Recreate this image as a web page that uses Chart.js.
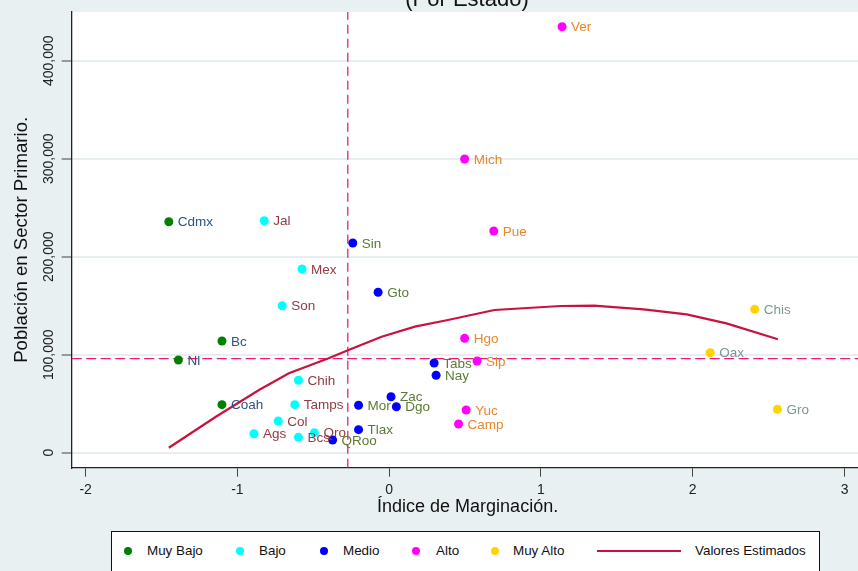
<!DOCTYPE html>
<html>
<head>
<meta charset="utf-8">
<script src="https://cdn.jsdelivr.net/npm/chart.js@4.4.1/dist/chart.umd.min.js"></script>
<style>
  html, body { margin: 0; padding: 0; background: #E9F0F2; overflow: hidden; }
  #wrap { position: relative; width: 858px; height: 571px; overflow: hidden; }
  #chart { position: absolute; left: 0; top: 0; }
  #legend {
    position: absolute; left: 111px; top: 531px; width: 709px; height: 60px;
    background: #fff; border: 1px solid #111; box-sizing: border-box;
    font: 13.4px "Liberation Sans", Arial, sans-serif; color: #111;
  }
  #legend .dot { position: absolute; width: 8px; height: 8px; border-radius: 50%; top: 15px; }
  #legend .txt { position: absolute; top: 11px; line-height: 16px; white-space: nowrap; }
  #legend .ln { position: absolute; height: 2px; top: 18px; }
</style>
</head>
<body>
<div id="wrap">
  <canvas id="chart" width="868" height="571"></canvas>
  <div id="legend"></div>
</div>
<script>
// grupos de marginación
const groupNames = ['Muy Bajo', 'Bajo', 'Medio', 'Alto', 'Muy Alto'];
const groupColors = ['#008000', '#00FFFF', '#0000FF', '#FF00FF', '#FFD200'];
const labelColors = ['#2B5580', '#933A42', '#5B7A33', '#E8862A', '#7C9792'];

const muyBajoStates = ['Cdmx', 'Bc', 'Nl', 'Coah'];
const muyBajoX = [-1.452, -1.102, -1.389, -1.102];
const muyBajoY = [235700, 114000, 94600, 49000];

const bajoStates = ['Jal', 'Mex', 'Son', 'Chih', 'Tamps', 'Col', 'Ags', 'Bcs', 'Qro'];
const bajoX = [-0.823, -0.574, -0.705, -0.598, -0.622, -0.731, -0.891, -0.598, -0.493];
const bajoY = [236700, 187400, 150000, 73900, 49000, 32300, 19400, 15700, 20400];

const medioStates = ['Sin', 'Gto', 'Tabs', 'Nay', 'Zac', 'Mor', 'Dgo', 'Tlax', 'QRoo'];
const medioX = [-0.240, -0.073, 0.296, 0.309, 0.012, -0.202, 0.047, -0.202, -0.373];
const medioY = [214000, 163700, 91500, 79000, 57100, 48400, 46900, 23500, 13000];

const altoStates = ['Ver', 'Mich', 'Pue', 'Hgo', 'Slp', 'Yuc', 'Camp'];
const altoX = [1.139, 0.497, 0.689, 0.497, 0.579, 0.507, 0.457];
const altoY = [434700, 299700, 226200, 116700, 93600, 43600, 29300];

const muyAltoStates = ['Chis', 'Oax', 'Gro'];
const muyAltoX = [2.408, 2.115, 2.558];
const muyAltoY = [146300, 102000, 44300];

// valores estimados (ajuste cuadrático)
const fitX = [-1.452, -1.142, -0.858, -0.661, -0.399, -0.268, -0.050, 0.169, 0.387, 0.693, 1.130, 1.349, 1.676, 1.960, 2.222, 2.561];
const fitY = [5100, 36700, 64000, 81000, 96300, 104800, 118400, 128600, 135400, 145600, 149700, 150000, 146300, 141200, 132000, 115700];

// líneas de referencia (medias)
const meanX = -0.273;
const meanY = 95900;

// ejes
const xTickValues = [-2, -1, 0, 1, 2, 3];
const yTickValues = [0, 100000, 200000, 300000, 400000];
const xMin = -2.092, xMax = 3.125;
const yMin = -15300, yMax = 449700;

const groupX = [muyBajoX, bajoX, medioX, altoX, muyAltoX];
const groupY = [muyBajoY, bajoY, medioY, altoY, muyAltoY];
const groupStates = [muyBajoStates, bajoStates, medioStates, altoStates, muyAltoStates];

const FONT = '"Liberation Sans", Arial, sans-serif';
Chart.defaults.font.family = FONT;

const toPoints = (xs, ys) => xs.map((x, i) => ({ x: x, y: ys[i] }));

const datasets = groupNames.map((name, g) => ({
    label: name,
    type: 'scatter',
    data: toPoints(groupX[g], groupY[g]),
    names: groupStates[g],
    labelColor: labelColors[g],
    backgroundColor: groupColors[g],
    borderWidth: 0,
    pointRadius: 4.5,
    order: 1
}));

datasets.push({
    label: 'Valores Estimados',
    type: 'line',
    data: toPoints(fitX, fitY),
    borderColor: '#C8133F',
    borderWidth: 2.2,
    pointRadius: 0,
    tension: 0,
    fill: false,
    order: 2
});
datasets.push({
    type: 'line',
    data: [{ x: meanX, y: yMin }, { x: meanX, y: yMax }],
    borderColor: '#EC1C79',
    borderWidth: 1.3,
    borderDash: [9, 5],
    pointRadius: 0,
    fill: false,
    order: 3
});
datasets.push({
    type: 'line',
    data: [{ x: xMin, y: meanY }, { x: xMax, y: meanY }],
    borderColor: '#EC1C79',
    borderWidth: 1.3,
    borderDash: [10, 4.5],
    pointRadius: 0,
    fill: false,
    order: 3
});

const decor = {
    id: 'decor',
    beforeDraw(chart) {
        const { ctx, chartArea: a } = chart;
        ctx.save();
        ctx.fillStyle = '#E9F0F2';
        ctx.fillRect(0, 0, chart.width, chart.height);
        ctx.fillStyle = '#FFFFFF';
        ctx.fillRect(a.left, a.top, a.right - a.left, a.bottom - a.top);
        ctx.restore();
    },
    afterDatasetsDraw(chart) {
        const ctx = chart.ctx;
        ctx.save();
        ctx.font = '13.5px ' + FONT;
        ctx.textBaseline = 'middle';
        ctx.textAlign = 'left';
        chart.data.datasets.forEach((ds, i) => {
            if (!ds.names) return;
            chart.getDatasetMeta(i).data.forEach((pt, j) => {
                ctx.fillStyle = ds.labelColor;
                ctx.fillText(ds.names[j], pt.x + 9, pt.y + 1);
            });
        });
        ctx.restore();
    },
    afterDraw(chart) {
        const ctx = chart.ctx;
        ctx.save();
        ctx.font = '22px ' + FONT;
        ctx.fillStyle = '#111';
        ctx.textAlign = 'center';
        ctx.textBaseline = 'alphabetic';
        ctx.fillText('(Por Estado)', 467, 6);
        ctx.restore();
    }
};

new Chart(document.getElementById('chart').getContext('2d'), {
    type: 'scatter',
    data: { datasets: datasets },
    plugins: [decor],
    options: {
        responsive: false,
        animation: false,
        events: [],
        layout: { padding: { top: 12, left: 0, right: 0, bottom: 0 } },
        plugins: { legend: { display: false }, tooltip: { enabled: false } },
        scales: {
            x: {
                type: 'linear',
                min: xMin,
                max: xMax,
                afterBuildTicks: function (s) { s.ticks = xTickValues.map(v => ({ value: v })); },
                afterFit: function (s) { s.height = 103.3; },
                border: { color: '#222', width: 1.3 },
                grid: { drawOnChartArea: false, tickColor: '#444', tickLength: 9 },
                ticks: { maxRotation: 0, padding: 5, color: '#222', font: { size: 14 } },
                title: { display: true, text: 'Índice de Marginación.', color: '#111', font: { size: 18 }, padding: { top: 0, bottom: 53 } }
            },
            y: {
                type: 'linear',
                min: yMin,
                max: yMax,
                afterBuildTicks: function (s) { s.ticks = yTickValues.map(v => ({ value: v })); },
                afterFit: function (s) { s.width = 71.7; },
                border: { color: '#222', width: 1.3 },
                grid: { color: '#E6EEF1', lineWidth: 2, tickColor: '#444', tickLength: 10, tickWidth: 1 },
                ticks: {
                    minRotation: 90, maxRotation: 90,
                    crossAlign: 'center', padding: -12.5, color: '#222', font: { size: 14 },
                    callback: v => v.toLocaleString('en-US')
                },
                title: { display: true, text: 'Población en Sector Primario.', color: '#111', font: { size: 18.6 }, padding: { top: 11, bottom: 0 } }
            }
        }
    }
});

// leyenda
function buildLegend() {
    const box = document.getElementById('legend');
    const dotLeft = [12, 124, 208, 300, 379];
    const txtLeft = [35, 147, 231, 324, 401];
    groupNames.forEach((name, g) => {
        const d = document.createElement('span');
        d.className = 'dot';
        d.style.left = dotLeft[g] + 'px';
        d.style.background = groupColors[g];
        box.appendChild(d);
        const t = document.createElement('span');
        t.className = 'txt';
        t.style.left = txtLeft[g] + 'px';
        t.textContent = name;
        box.appendChild(t);
    });
    const l = document.createElement('span');
    l.className = 'ln';
    l.style.left = '485px';
    l.style.width = '84px';
    l.style.background = '#C8133F';
    box.appendChild(l);
    const t = document.createElement('span');
    t.className = 'txt';
    t.style.left = '583px';
    t.textContent = 'Valores Estimados';
    box.appendChild(t);
}
buildLegend();
</script>
</body>
</html>
